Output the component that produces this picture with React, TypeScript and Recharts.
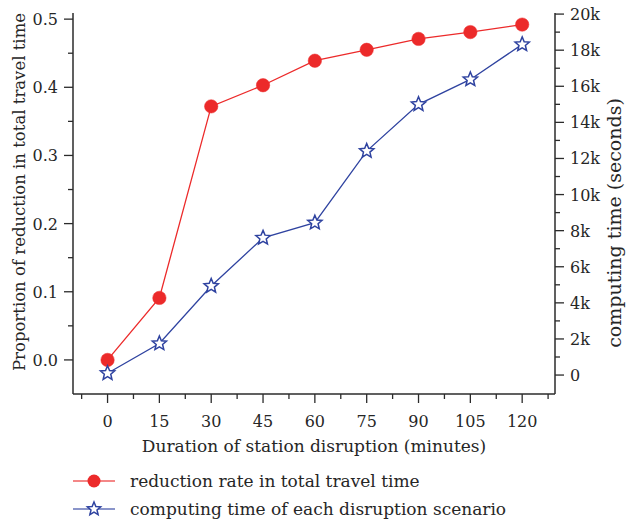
import { LineChart, Line, XAxis, YAxis, Legend } from "recharts";

const durations = [0, 15, 30, 45, 60, 75, 90, 105, 120];
const reductionRate = [0.0, 0.091, 0.372, 0.403, 0.439, 0.455, 0.471, 0.481, 0.492];
const computingTime = [100, 1750, 4930, 7600, 8440, 12410, 15000, 16380, 18320];

const xMajorTicks = [0, 15, 30, 45, 60, 75, 90, 105, 120];
const xMinorTicks = [-7.5, 7.5, 22.5, 37.5, 52.5, 67.5, 82.5, 97.5, 112.5, 127.5];
const leftMajorTicks = [0, 0.1, 0.2, 0.3, 0.4, 0.5];
const leftMinorTicks = [0.05, 0.15, 0.25, 0.35, 0.45];
const rightMajorTicks = [0, 2000, 4000, 6000, 8000, 10000, 12000, 14000, 16000, 18000, 20000];
const rightMinorTicks = [1000, 3000, 5000, 7000, 9000, 11000, 13000, 15000, 17000, 19000];

const seriesNames = [
  "reduction rate in total travel time",
  "computing time of each disruption scenario",
];

const data = durations.map((t, i) => ({
  t,
  rate: reductionRate[i],
  time: computingTime[i],
}));

const FONT = "'DejaVu Serif', serif";
const AXIS = "#2b2b2b";
const RED = "#ec2a2a";
const BLUE = "#2f43a0";
const TEXT = "#262626";

const isMajor = (v: number, list: number[]) => list.some((m) => Math.abs(m - v) < 1e-6);

const XTick = (props: any) => {
  const { x, y, payload } = props;
  const major = isMajor(payload.value, xMajorTicks);
  return (
    <g>
      <line x1={x} x2={x} y1={y} y2={y + (major ? 9 : 5)} stroke={AXIS} strokeWidth={1.3} />
      {major && (
        <text x={x} y={y + 33} textAnchor="middle" fontFamily={FONT} fontSize={16} fill={TEXT}>
          {payload.value}
        </text>
      )}
    </g>
  );
};

const LeftTick = (props: any) => {
  const { x, y, payload } = props;
  const major = isMajor(payload.value, leftMajorTicks);
  return (
    <g>
      <line x1={x} x2={x - (major ? 9 : 5)} y1={y} y2={y} stroke={AXIS} strokeWidth={1.3} />
      {major && (
        <text x={x - 15} y={y + 6} textAnchor="end" fontFamily={FONT} fontSize={16} fill={TEXT}>
          {payload.value.toFixed(1)}
        </text>
      )}
    </g>
  );
};

const RightTick = (props: any) => {
  const { x, y, payload } = props;
  const major = isMajor(payload.value, rightMajorTicks);
  const label = payload.value === 0 ? "0" : `${payload.value / 1000}k`;
  return (
    <g>
      <line x1={x} x2={x + (major ? 9 : 5)} y1={y} y2={y} stroke={AXIS} strokeWidth={1.3} />
      {major && (
        <text x={x + 15} y={y + 6} textAnchor="start" fontFamily={FONT} fontSize={16} fill={TEXT}>
          {label}
        </text>
      )}
    </g>
  );
};

const Star = ({ cx, cy, r = 7.5 }: { cx: number; cy: number; r?: number }) => {
  const pts: string[] = [];
  for (let i = 0; i < 10; i++) {
    const rad = i % 2 === 0 ? r : r * 0.45;
    const a = -Math.PI / 2 + (i * Math.PI) / 5;
    pts.push(`${cx + rad * Math.cos(a)},${cy + rad * Math.sin(a)}`);
  }
  return <polygon points={pts.join(" ")} fill="#fff" stroke={BLUE} strokeWidth={1.5} />;
};

const LegendBox = () => (
  <svg width={627} height={56}>
    <line x1={73} x2={115} y1={14} y2={14} stroke={RED} strokeOpacity={0.75} strokeWidth={1.5} />
    <circle cx={94} cy={14} r={6.5} fill={RED} />
    <text x={130} y={20} fontFamily={FONT} fontSize={17} fill={TEXT}>
      {seriesNames[0]}
    </text>
    <line x1={73} x2={115} y1={42} y2={42} stroke={BLUE} strokeOpacity={0.75} strokeWidth={1.5} />
    <Star cx={94} cy={42} r={7} />
    <text x={130} y={48} fontFamily={FONT} fontSize={17} fill={TEXT}>
      {seriesNames[1]}
    </text>
  </svg>
);

const App = () => {
  return (
    <div style={{ position: "absolute", left: 0, top: 0 }}>
      <LineChart
        width={627}
        height={520}
        data={data}
        margin={{ top: 13, right: 0, bottom: 71, left: 0 }}
      >
        <XAxis
          dataKey="t"
          type="number"
          domain={[-10, 129.5]}
          ticks={[...xMinorTicks, ...xMajorTicks].sort((a, b) => a - b)}
          interval={0}
          tickSize={0}
          tickMargin={0}
          tick={<XTick />}
          height={55}
          stroke={AXIS}
          strokeWidth={1.5}
          allowDataOverflow
          label={(p: any) => {
            const vb = p.viewBox;
            return (
              <text x={vb.x + vb.width / 2} y={vb.y + 58} textAnchor="middle" fontFamily={FONT} fontSize={17} fill={TEXT}>
                Duration of station disruption (minutes)
              </text>
            );
          }}
        />
        <YAxis
          yAxisId="left"
          type="number"
          domain={[-0.05, 0.509]}
          ticks={[...leftMinorTicks, ...leftMajorTicks].sort((a, b) => a - b)}
          interval={0}
          tickSize={0}
          tickMargin={0}
          tick={<LeftTick />}
          width={73}
          stroke={AXIS}
          strokeWidth={1.5}
          allowDataOverflow
          label={() => {
            const cy = 192;
            return (
              <text x={25} y={cy} transform={`rotate(-90 25 ${cy})`} textAnchor="middle" fontFamily={FONT} fontSize={16.5} fill={TEXT}>
                Proportion of reduction in total travel time
              </text>
            );
          }}
        />
        <YAxis
          yAxisId="right"
          orientation="right"
          type="number"
          domain={[-1050, 20060]}
          ticks={[...rightMinorTicks, ...rightMajorTicks].sort((a, b) => a - b)}
          interval={0}
          tickSize={0}
          tickMargin={0}
          tick={<RightTick />}
          width={72}
          stroke={AXIS}
          strokeWidth={1.5}
          allowDataOverflow
          label={() => {
            const cy = 223;
            return (
              <text x={621} y={cy} transform={`rotate(-90 621 ${cy})`} textAnchor="middle" fontFamily={FONT} fontSize={19} fill={TEXT}>
                computing time (seconds)
              </text>
            );
          }}
        />
        <Legend
          layout="vertical"
          verticalAlign="middle"
          align="center"
          wrapperStyle={{ left: 0, top: 467, width: 627 }}
          content={() => <LegendBox />}
        />
        <Line
          yAxisId="left"
          dataKey="rate"
          stroke={RED}
          strokeWidth={1.3}
          dot={{ r: 6.7, fill: RED, stroke: RED, strokeWidth: 0.5 }}
          isAnimationActive={false}
        />
        <Line
          yAxisId="right"
          dataKey="time"
          stroke={BLUE}
          strokeWidth={1.3}
          dot={(p: any) => <Star key={`s-${p.index}`} cx={p.cx} cy={p.cy} />}
          isAnimationActive={false}
        />
      </LineChart>
    </div>
  );
};

export default App;
